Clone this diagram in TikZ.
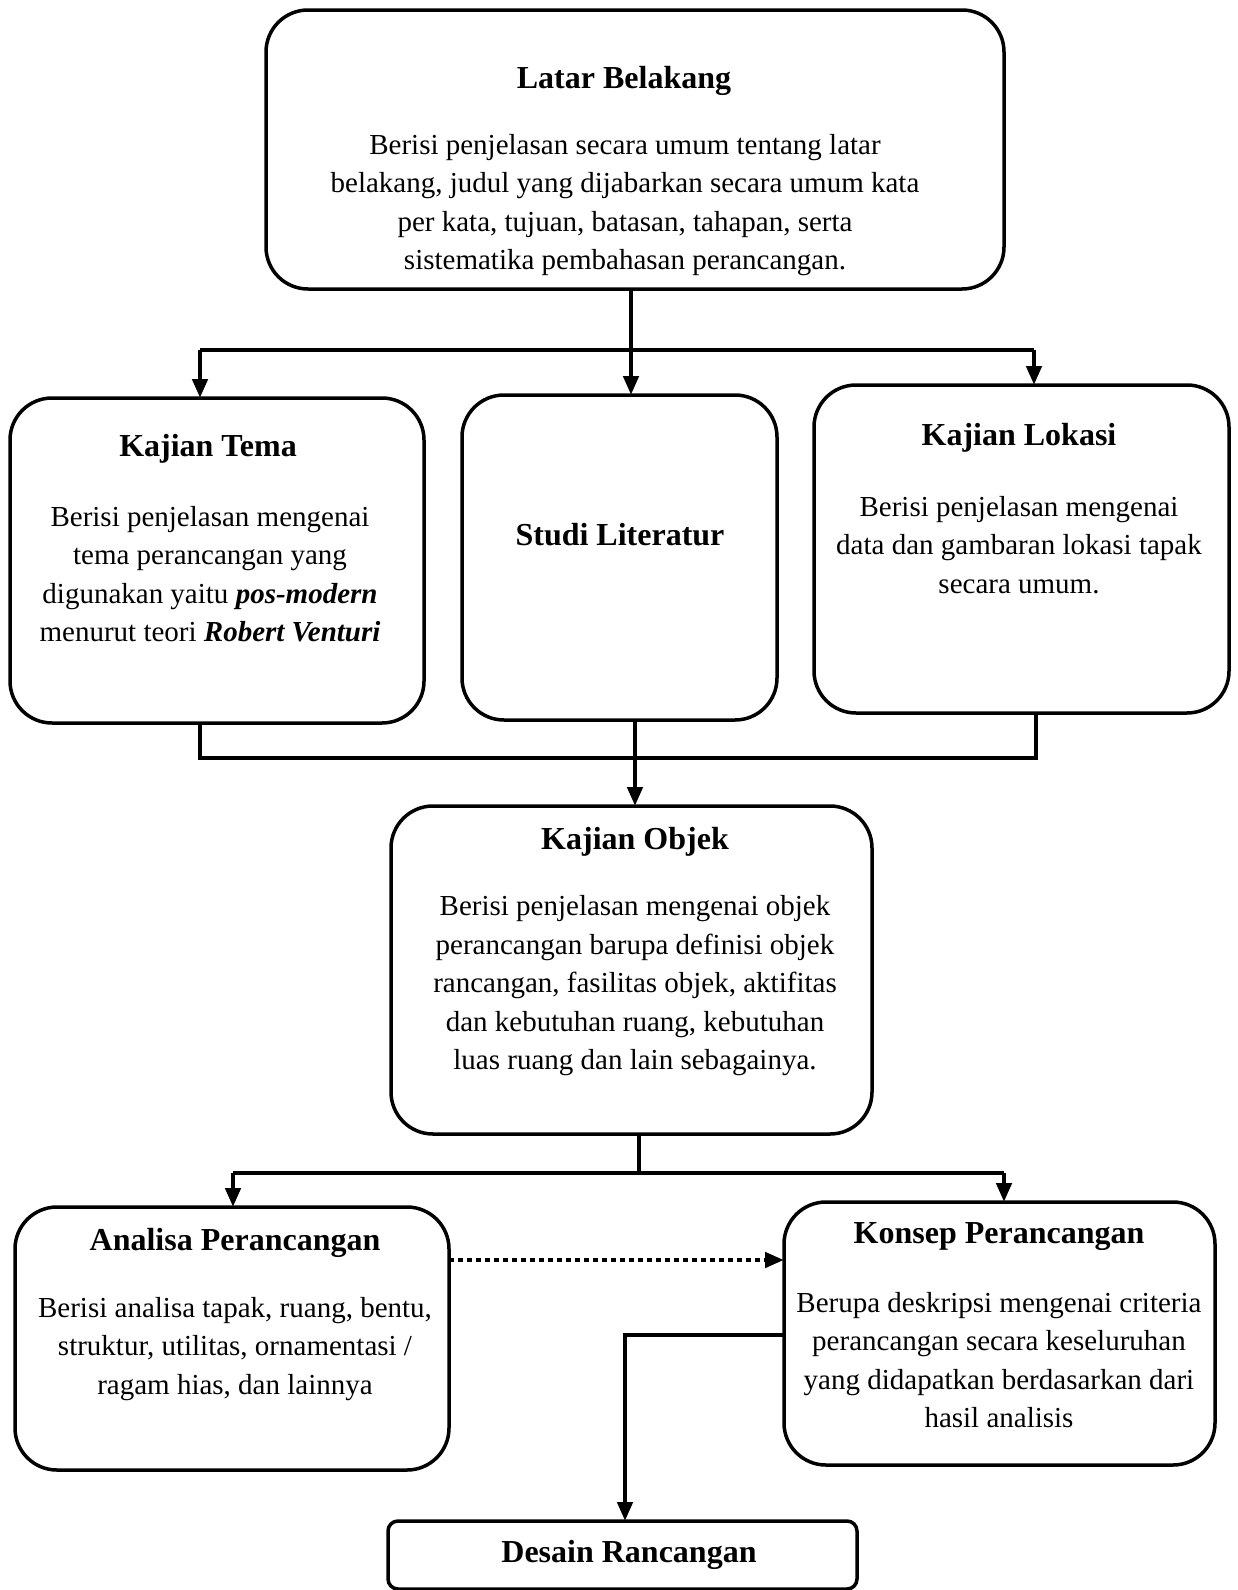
\documentclass[tikz,border=0pt]{standalone}
\usepackage{fontspec}
\setmainfont{Liberation Serif}
\usetikzlibrary{arrows.meta}
\tikzset{
  box/.style={draw, line width=3.5pt, rounded corners=42pt, inner sep=0pt, outer sep=0pt},
  ttl/.style={font=\fontsize{32}{38}\selectfont\bfseries, inner sep=0pt},
  bodytxt/.style={font=\fontsize{29}{38.5}\selectfont, align=center, inner sep=0pt},
  conn/.style={line width=4.5pt},
  arr/.style={conn, -{Triangle[width=15pt,length=19pt]}},
  dotln/.style={line width=4.5pt, dash pattern=on 4.5pt off 4.5pt}
}
\begin{document}
\begin{tikzpicture}[x=1pt,y=-1pt]
\useasboundingbox[fill=white] (0,0) rectangle (1238,1590);

% boxes
\node[box, minimum width=738pt, minimum height=279pt] (lb) at (635,149.5) {};
\node[box, minimum width=414pt, minimum height=325pt] (kt) at (217,560.5) {};
\node[box, minimum width=315pt, minimum height=325pt] (sl) at (619.5,557.5) {};
\node[box, minimum width=415pt, minimum height=328pt] (kl) at (1021.5,549) {};
\node[box, minimum width=481pt, minimum height=328pt] (ko) at (631.5,970) {};
\node[box, minimum width=434pt, minimum height=263pt] (an) at (232,1338.5) {};
\node[box, minimum width=431pt, minimum height=263pt] (kp) at (999.5,1333.5) {};
\node[box, rounded corners=10pt, minimum width=469pt, minimum height=68pt] (ds) at (622.5,1555) {};

% texts
\node[ttl] (lbt) at (624,81) {Latar Belakang};
\node[bodytxt] (lbb) at (625,205) {Berisi penjelasan secara umum tentang latar\\belakang, judul yang dijabarkan secara umum kata\\per kata, tujuan, batasan, tahapan, serta\\sistematika pembahasan perancangan.};

\node[ttl] (ktt) at (208,449) {Kajian Tema};
\node[bodytxt] (ktb) at (210,574) {Berisi penjelasan mengenai\\tema perancangan yang\\digunakan yaitu \textbf{\textit{pos-modern}}\\menurut teori \textbf{\textit{Robert Venturi}}};

\node[ttl] (slt) at (620,535) {Studi Literatur};

\node[ttl] (klt) at (1019,438) {Kajian Lokasi};
\node[bodytxt] (klb) at (1019,545) {Berisi penjelasan mengenai\\data dan gambaran lokasi tapak\\secara umum.};

\node[ttl] (kot) at (635,842) {Kajian Objek};
\node[bodytxt] (kob) at (635,986) {Berisi penjelasan mengenai objek\\perancangan barupa definisi objek\\rancangan, fasilitas objek, aktifitas\\dan kebutuhan ruang, kebutuhan\\luas ruang dan lain sebagainya.};

\node[ttl] (ant) at (235,1243) {Analisa Perancangan};
\node[bodytxt] (anb) at (235,1349) {Berisi analisa tapak, ruang, bentu,\\struktur, utilitas, ornamentasi /\\ragam hias, dan lainnya};

\node[ttl] (kpt) at (999,1237) {Konsep Perancangan};
\node[bodytxt] (kpb) at (999,1360) {Berupa deskripsi mengenai criteria\\perancangan secara keseluruhan\\yang didapatkan berdasarkan dari\\hasil analisis};

\node[ttl] (dst) at (629,1555) {Desain Rancangan};

% junction coordinates
\coordinate (c1) at (200,350);
\coordinate (c2) at (631,350);
\coordinate (c3) at (1034,350);
\coordinate (m1) at (200,758);
\coordinate (m2) at (635,758);
\coordinate (m3) at (1036,758);
\coordinate (l1) at (233,1173);
\coordinate (l2) at (639,1173);
\coordinate (l3) at (1004,1173);
\coordinate (dy) at (0,1260);
\coordinate (k1) at (625,1335);

% connectors
\draw[arr] (c2 |- lb.south) -- (c2 |- sl.north);
\draw[conn] (c1) -- (c3);
\draw[arr] (c1) -- (c1 |- kt.north);
\draw[arr] (c3) -- (c3 |- kl.north);

\draw[conn] (m1 |- kt.south) -- (m1) -- (m3) -- (m3 |- kl.south);
\draw[arr] (m2 |- sl.south) -- (m2 |- ko.north);

\draw[conn] (l2 |- ko.south) -- (l2);
\draw[conn] (l1) -- (l3);
\draw[arr] (l1) -- (l1 |- an.north);
\draw[arr] (l3) -- (l3 |- kp.north);

\draw[arr, dotln] (an.east |- dy) -- (kp.west |- dy);

\draw[arr] (kp.west |- k1) -- (k1) -- (k1 |- ds.north);
\end{tikzpicture}
\end{document}
